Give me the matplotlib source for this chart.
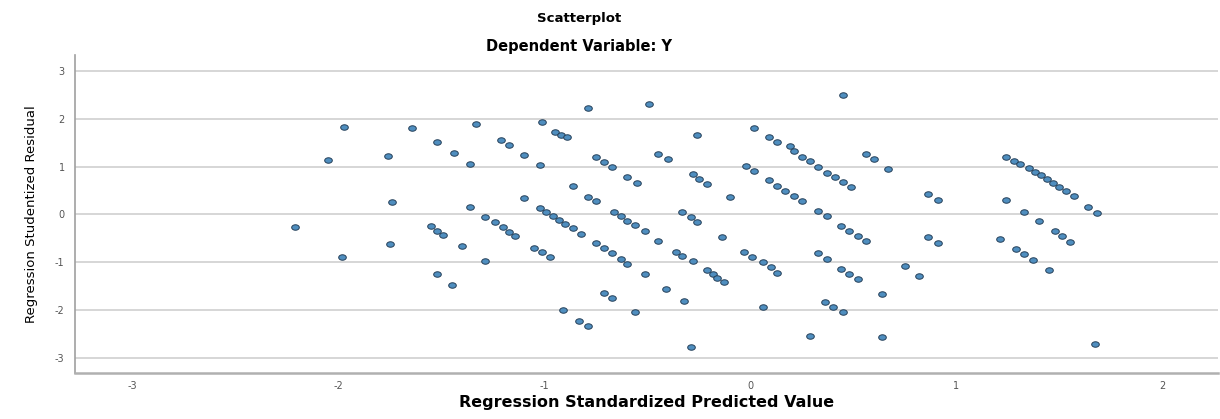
import matplotlib
matplotlib.use("Agg")
import matplotlib.pyplot as plt
import numpy as np
from matplotlib.path import Path

# standardized predicted value / studentized residual pairs
pred = [
    -2.21, -2.05, -1.97, -1.98, -1.76, -1.74, -1.75, -1.64, -1.52, -1.44, -1.36,
    -1.33, -1.21, -1.17, -1.10, -1.02, -1.01, -0.95, -0.92, -0.89, -0.79, -0.86,
    -1.10, -1.36, -1.55, -1.52, -1.49, -1.40, -1.29, -1.24, -1.20, -1.17, -1.14,
    -1.29, -1.52, -1.45, -1.02, -0.99, -0.96, -0.93, -0.90, -0.86, -0.82,
    -1.05, -1.01, -0.97, -0.91, -0.83, -0.79,
    -0.75, -0.71, -0.67, -0.63, -0.60, -0.79, -0.75,
    -0.49, -0.26, 0.02,
    0.09, 0.13, 0.19, 0.21, 0.25, 0.29, 0.33, 0.37, 0.41, 0.45, 0.49,
    -0.75, -0.71, -0.67, -0.45, -0.40, -0.60, -0.55, -0.28, -0.25, -0.21,
    -0.02, 0.02, 0.09, 0.13, 0.17, 0.21, 0.25, -0.10,
    -0.66, -0.63, -0.60, -0.56, -0.51, -0.33, -0.29, -0.26, -0.45,
    -0.36, -0.33, -0.28, -0.14, -0.21, -0.18, -0.16, -0.13,
    -0.03, 0.01, 0.06, 0.10, 0.13, -0.51, -0.41, -0.71, -0.67, -0.32, -0.56,
    0.06, -0.29, 0.45, 0.56, 0.60, 0.67, 0.86, 0.91, 0.33, 0.37,
    0.44, 0.48, 0.52, 0.56, 0.86, 0.91, 0.33, 0.37, 0.44, 0.48, 0.52,
    0.75, 0.82, 0.64, 0.36, 0.40, 0.45, 0.29, 0.64,
    1.24, 1.28, 1.31, 1.35, 1.38, 1.41, 1.44, 1.47, 1.50, 1.53, 1.57,
    1.64, 1.68, 1.24, 1.33, 1.40, 1.48, 1.51, 1.55, 1.21, 1.29, 1.33, 1.37,
    1.45, 1.67,
]
resid = [
    -0.26, 1.14, 1.83, -0.89, 1.22, 0.26, -0.62, 1.81, 1.52, 1.29, 1.06,
    1.89, 1.56, 1.45, 1.24, 1.04, 1.93, 1.73, 1.67, 1.62, 2.23, 0.60,
    0.35, 0.16, -0.24, -0.35, -0.43, -0.66, -0.05, -0.16, -0.26, -0.37, -0.45,
    -0.97, -1.24, -1.47, 0.14, 0.05, -0.03, -0.12, -0.20, -0.28, -0.41,
    -0.70, -0.79, -0.89, -2.00, -2.24, -2.33,
    -0.60, -0.70, -0.81, -0.93, -1.04, 0.37, 0.28,
    2.31, 1.66, 1.81,
    1.62, 1.52, 1.43, 1.33, 1.20, 1.12, 0.99, 0.87, 0.78, 0.68, 0.57,
    1.20, 1.10, 0.99, 1.27, 1.16, 0.79, 0.66, 0.84, 0.74, 0.64,
    1.01, 0.91, 0.72, 0.60, 0.49, 0.39, 0.28, 0.37,
    0.05, -0.03, -0.14, -0.22, -0.35, 0.05, -0.05, -0.16, -0.55,
    -0.78, -0.87, -0.97, -0.47, -1.16, -1.24, -1.33, -1.41,
    -0.78, -0.89, -0.99, -1.10, -1.22, -1.24, -1.56, -1.65, -1.75, -1.81, -2.04,
    -1.93, -2.77, 2.50, 1.26, 1.16, 0.95, 0.43, 0.30, 0.07, -0.03,
    -0.24, -0.35, -0.45, -0.55, -0.47, -0.60, -0.81, -0.93, -1.14, -1.25, -1.35,
    -1.08, -1.29, -1.66, -1.83, -1.94, -2.04, -2.54, -2.56,
    1.21, 1.12, 1.05, 0.97, 0.89, 0.82, 0.74, 0.66, 0.58, 0.49, 0.39,
    0.15, 0.03, 0.30, 0.06, -0.14, -0.34, -0.45, -0.58, -0.52, -0.73, -0.83, -0.96,
    -1.16, -2.71,
]
ticks = [-3, -2, -1, 0, 1, 2, 3]

# flat ellipse marker like the SPSS output
t = np.linspace(0, 2 * np.pi, 40)
ellipse = Path(np.column_stack([np.cos(t), 0.72 * np.sin(t)]), closed=True)

fig = plt.figure(figsize=(12.2, 4.19), dpi=100)
ax = fig.add_axes([0.0615, 0.110, 0.937, 0.759])

ax.scatter(pred, resid, marker=ellipse, s=30, facecolor="#4f8ebf",
           edgecolor="#243f58", linewidth=0.7, zorder=3)

ax.set_xlim(-3.277, 2.27)
ax.set_ylim(-3.32, 3.34)
ax.set_xticks(ticks[:-1])
ax.set_yticks(ticks)
ax.set_xticklabels([str(v) for v in ticks[:-1]])
ax.set_yticklabels([str(v) for v in ticks])
ax.yaxis.grid(True, color="#d6d6d6", linewidth=1.4, zorder=0)
ax.tick_params(length=0, labelsize=7, labelcolor="#555555")
ax.tick_params(axis="x", pad=5.5)
ax.tick_params(axis="y", pad=7.5)

for side in ["top", "right"]:
    ax.spines[side].set_visible(False)
ax.spines["left"].set_color("#a0a0a0")
ax.spines["left"].set_linewidth(1.2)
ax.spines["bottom"].set_color("#b0b0b0")
ax.spines["bottom"].set_linewidth(1.8)

ax.set_ylabel("Regression Studentized Residual", fontsize=9.5,
              family="DejaVu Sans", labelpad=12)
ax.set_xlabel("Regression Standardized Predicted Value", fontsize=11.5,
              family="DejaVu Sans", fontweight="bold", labelpad=3)

fig.text(0.475, 0.955, "Scatterplot", ha="center", va="center",
         fontsize=9.5, family="DejaVu Sans", fontweight="bold")
fig.text(0.475, 0.888, "Dependent Variable: Y", ha="center", va="center",
         fontsize=10.5, family="DejaVu Sans", fontweight="bold")

fig.savefig("out.png", dpi=100)
